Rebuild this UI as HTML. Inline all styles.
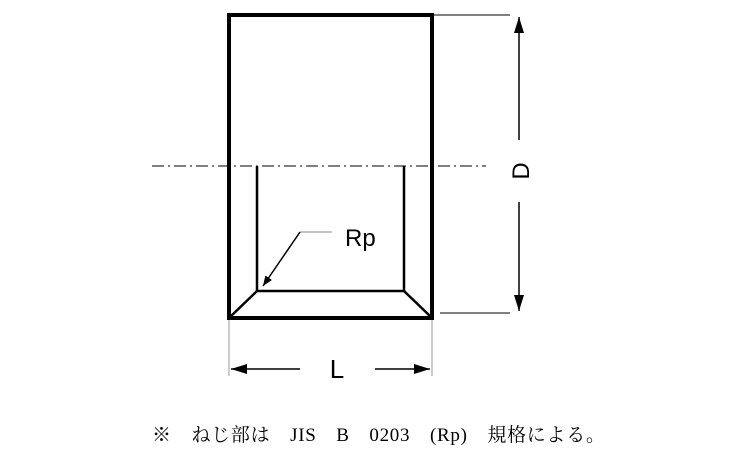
<!DOCTYPE html>
<html><head><meta charset="utf-8"><style>
body{margin:0;width:750px;height:450px;background:#fff;overflow:hidden}
</style></head><body>
<svg width="750" height="450" viewBox="0 0 750 450" xmlns="http://www.w3.org/2000/svg">
<defs><marker id="a" markerWidth="10" markerHeight="8" refX="10" refY="4" orient="auto" markerUnits="userSpaceOnUse"><path d="M0,0 L10,4 L0,8 z" fill="#000"/></marker>
<marker id="b" markerWidth="16" markerHeight="10" refX="16" refY="5" orient="auto" markerUnits="userSpaceOnUse"><path d="M0,0 L16,5 L0,10 z" fill="#000"/></marker></defs>
<line x1="152" y1="166" x2="486" y2="166" stroke="#000" stroke-width="1" stroke-dasharray="12,4,2,4"/>
<rect x="229" y="15" width="203" height="303" fill="none" stroke="#000" stroke-width="4"/>
<g stroke="#000" stroke-width="2.5" fill="none">
<polyline points="257,166 257,291 404,291 404,166"/>
<line x1="257" y1="291" x2="230" y2="317"/>
<line x1="404" y1="291" x2="431" y2="317"/>
</g>
<g stroke="#000" stroke-width="1">
<line x1="434" y1="15" x2="510" y2="15"/>
<line x1="440" y1="313" x2="510" y2="313"/>
<line x1="519" y1="140" x2="519" y2="17" stroke-width="1.5" marker-end="url(#b)"/>
<line x1="519" y1="202" x2="519" y2="311" stroke-width="1.5" marker-end="url(#b)"/>
<line x1="300" y1="232" x2="332" y2="232" stroke="#888"/>
<line x1="300" y1="232" x2="263" y2="286" stroke-width="1.5" marker-end="url(#a)"/>
</g>
<g stroke="#999" stroke-width="1">
<line x1="229" y1="320" x2="229" y2="376"/>
<line x1="432" y1="320" x2="432" y2="376"/>
</g>
<line x1="300" y1="369" x2="231" y2="369" stroke="#000" stroke-width="1.5" marker-end="url(#b)"/>
<line x1="375" y1="369" x2="430" y2="369" stroke="#000" stroke-width="1.5" marker-end="url(#b)"/>
<text x="337" y="378" font-family="Liberation Sans, sans-serif" font-size="26" text-anchor="middle">L</text>
<text x="345" y="246" font-family="Liberation Sans, sans-serif" font-size="24">Rp</text>
<text transform="translate(529,171) rotate(-90)" font-family="Liberation Sans, sans-serif" font-size="24" text-anchor="middle">D</text>
<text x="152" y="441" font-family="Liberation Serif, 'Noto Serif CJK SC', serif" font-size="19" textLength="453" lengthAdjust="spacing" xml:space="preserve">※　ねじ部は　JIS　B　0203　(Rp)　規格による。</text>
</svg>
</body></html>
